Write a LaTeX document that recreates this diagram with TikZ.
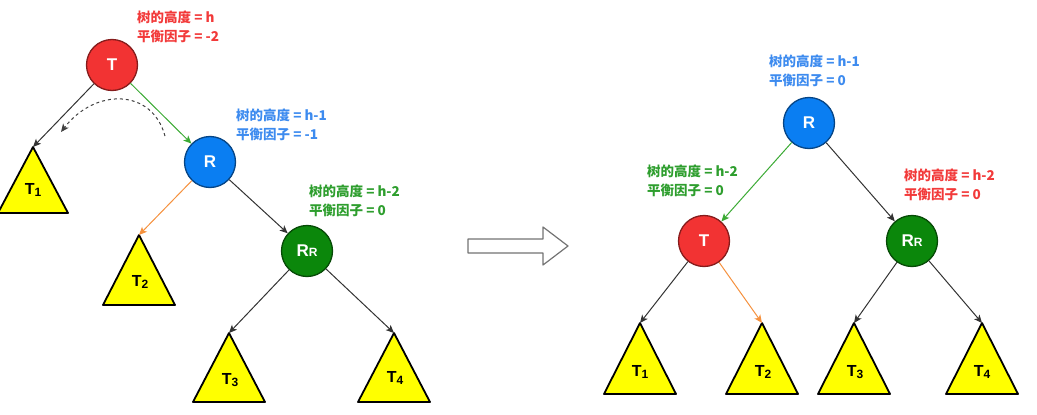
\documentclass[tikz,border=0pt]{standalone}
\usepackage{fontspec}
\setmainfont{Liberation Sans}
\newfontfamily\cjk{Noto Sans CJK SC}
\usetikzlibrary{arrows.meta}
\definecolor{nodered}{HTML}{F23333}
\definecolor{nodeblue}{HTML}{0A7EF2}
\definecolor{nodegreen}{HTML}{0B870B}
\definecolor{trigyellow}{HTML}{FFFF00}
\definecolor{txtred}{HTML}{F23A3A}
\definecolor{txtblue}{HTML}{3D8BEF}
\definecolor{txtgreen}{HTML}{2E9E2E}
\definecolor{edgegreen}{HTML}{3BAA34}
\definecolor{edgeorange}{HTML}{F5913E}

\begin{document}
\begin{tikzpicture}[x=1pt,y=-1pt,
    vert/.style={circle,draw=#1!55!black,fill=#1,line width=1.3pt,minimum size=51pt,inner sep=0pt,
      text=white,font=\fontsize{17}{17}\selectfont\bfseries},
    tri/.style={draw=black,fill=trigyellow,line width=1.8pt,line join=round},
    trilbl/.style={font=\fontsize{16}{16}\selectfont\bfseries},
    info/.style={anchor=north west,inner sep=0pt,align=left,text=#1,
      font=\cjk\bfseries\fontsize{13.5}{18.5}\selectfont},
    edge/.style={draw=#1,line width=1pt,-{Stealth[length=8pt,width=7pt,inset=2pt]}},
    edge/.default={black!80}]
  \useasboundingbox (0,0) rectangle (1037,415);

  % before rotation
  \node[vert=nodered] (T) at (112,65) {T};
  \node[vert=nodeblue] (R) at (210,162) {R};
  \node[vert=nodegreen] (RR) at (307,251) {R{\fontsize{12}{12}\selectfont R}};
  \node[info=txtred] (infoT) at (137,11) {树的高度 = h\\平衡因子 = -2};
  \node[info=txtblue] (infoR) at (236,109) {树的高度 = h-1\\平衡因子 = -1};
  \node[info=txtgreen] (infoRR) at (309,185) {树的高度 = h-2\\平衡因子 = 0};

  \coordinate (a1) at (33,147);
  \coordinate (a2) at (139,235);
  \coordinate (a3) at (229,333);
  \coordinate (a4) at (394,333);
  \filldraw[tri] (a1) -- ++(-35,66) -- ++(70,0) -- cycle;
  \filldraw[tri] (a2) -- ++(-36,70) -- ++(72,0) -- cycle;
  \filldraw[tri] (a3) -- ++(-36,69) -- ++(72,0) -- cycle;
  \filldraw[tri] (a4) -- ++(-36,69) -- ++(72,0) -- cycle;
  \node[trilbl] (s1) at (33,190) {T\raisebox{-1.5pt}{\fontsize{12}{12}\selectfont 1}};
  \node[trilbl] (s2) at (140,282) {T\raisebox{-1.5pt}{\fontsize{12}{12}\selectfont 2}};
  \node[trilbl] (s3) at (230,380) {T\raisebox{-1.5pt}{\fontsize{12}{12}\selectfont 3}};
  \node[trilbl] (s4) at (395,378) {T\raisebox{-1.5pt}{\fontsize{12}{12}\selectfont 4}};

  \draw[edge] (T) -- (a1);
  \draw[edge=edgegreen] (T) -- (R);
  \draw[edge=edgeorange] (R) -- (a2);
  \draw[edge] (R) -- (RR);
  \draw[edge] (RR) -- (a3);
  \draw[edge] (RR) -- (a4);

  \coordinate (rotA) at (165,136);
  \coordinate (rotB) at (61,132);
  \draw[edge=black!75,dashed] (rotA) .. controls (152,88) and (95,88) .. (rotB);

  % big arrow
  \draw[draw=black!55,fill=white,line width=1.2pt,line join=round]
    (468,239) -- (543,239) -- (543,227) -- (568,246) -- (543,265) -- (543,253) -- (468,253) -- cycle;

  % after rotation
  \node[vert=nodeblue] (R') at (809,123) {R};
  \node[vert=nodered] (T') at (704,241) {T};
  \node[vert=nodegreen] (RR') at (912,241) {R{\fontsize{12}{12}\selectfont R}};
  \node[info=txtblue] (infoR') at (769,55) {树的高度 = h-1\\平衡因子 = 0};
  \node[info=txtgreen] (infoT') at (647,165) {树的高度 = h-2\\平衡因子 = 0};
  \node[info=txtred] (infoRR') at (904,169) {树的高度 = h-2\\平衡因子 = 0};

  \coordinate (b1) at (640,323);
  \coordinate (b2) at (762,323);
  \coordinate (b3) at (854,323);
  \coordinate (b4) at (982,323);
  \filldraw[tri] (b1) -- ++(-36,71) -- ++(72,0) -- cycle;
  \filldraw[tri] (b2) -- ++(-36,71) -- ++(72,0) -- cycle;
  \filldraw[tri] (b3) -- ++(-36,71) -- ++(72,0) -- cycle;
  \filldraw[tri] (b4) -- ++(-36,71) -- ++(72,0) -- cycle;
  \node[trilbl] (u1) at (640,372) {T\raisebox{-1.5pt}{\fontsize{12}{12}\selectfont 1}};
  \node[trilbl] (u2) at (763,372) {T\raisebox{-1.5pt}{\fontsize{12}{12}\selectfont 2}};
  \node[trilbl] (u3) at (855,372) {T\raisebox{-1.5pt}{\fontsize{12}{12}\selectfont 3}};
  \node[trilbl] (u4) at (982,372) {T\raisebox{-1.5pt}{\fontsize{12}{12}\selectfont 4}};

  \draw[edge=edgegreen] (R') -- (T');
  \draw[edge] (R') -- (RR');
  \draw[edge] (T') -- (b1);
  \draw[edge=edgeorange] (T') -- (b2);
  \draw[edge] (RR') -- (b3);
  \draw[edge] (RR') -- (b4);
\end{tikzpicture}
\end{document}
